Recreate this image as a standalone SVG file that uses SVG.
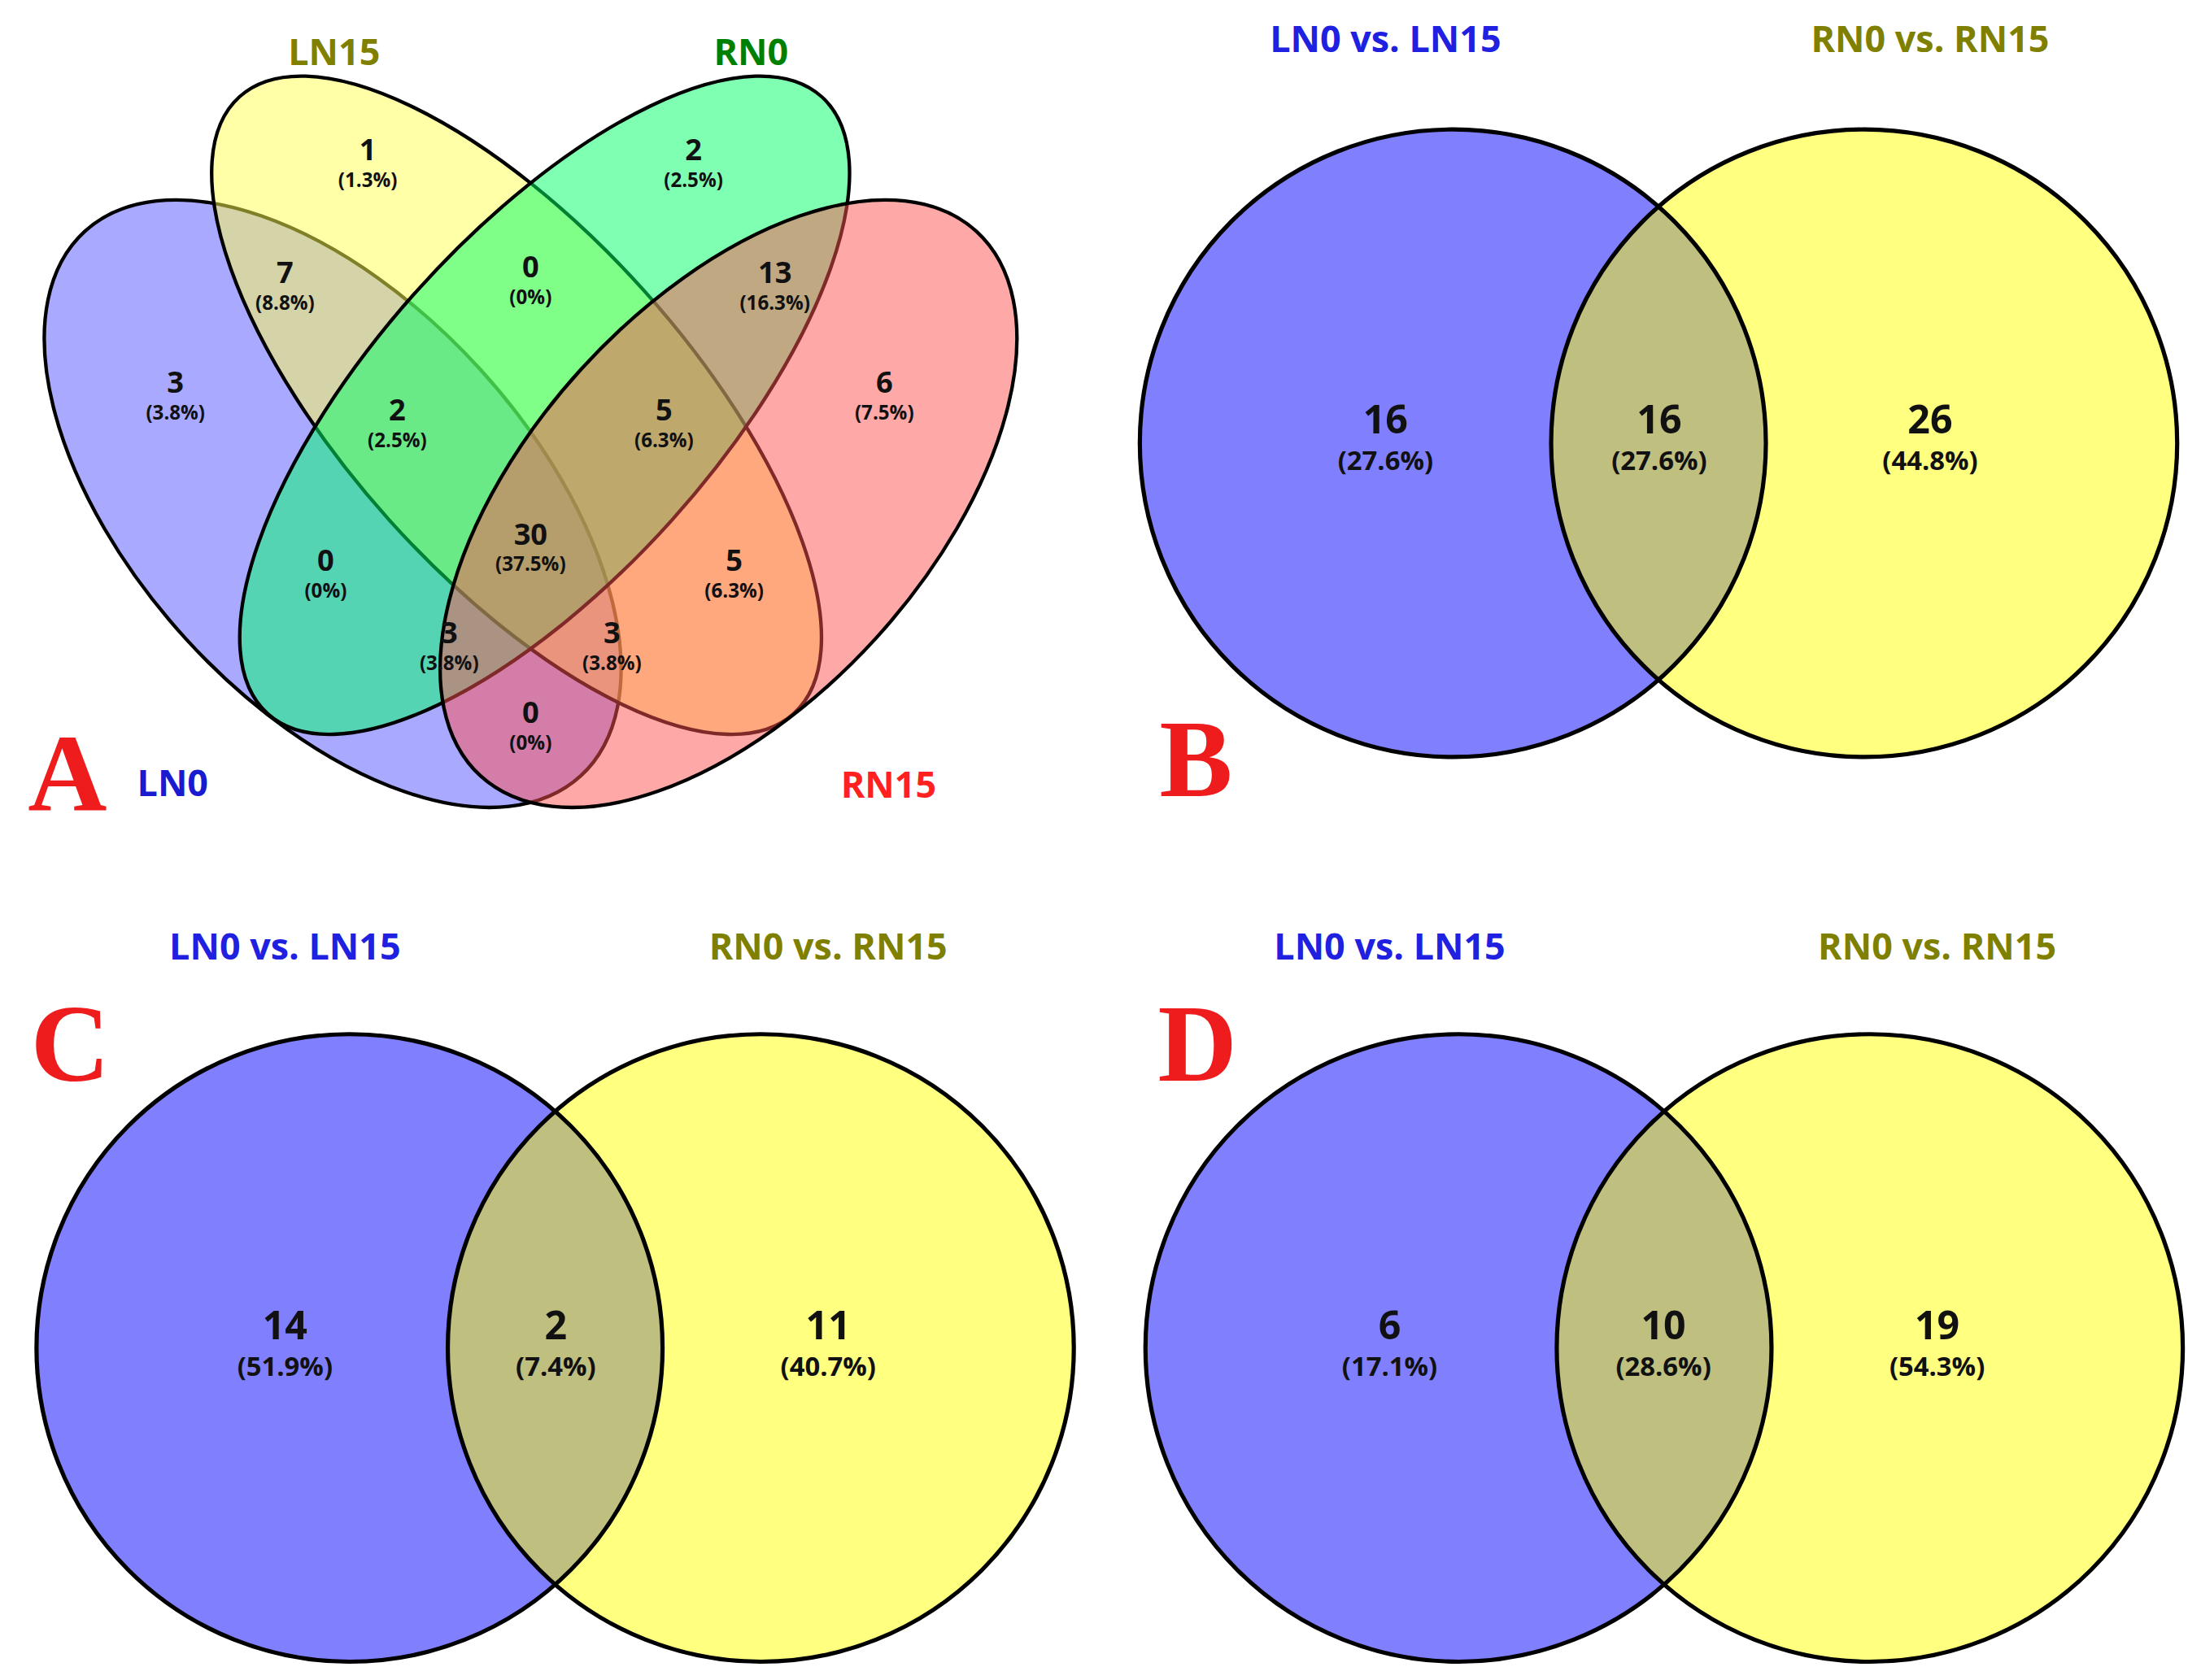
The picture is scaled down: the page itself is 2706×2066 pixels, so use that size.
<svg xmlns="http://www.w3.org/2000/svg" width="2706" height="2066" viewBox="0 0 2706 2066">
<style>
.n{font-family:"Open Sans","Noto Sans",sans-serif;font-weight:bold;fill:#111;text-anchor:middle}
.a1{font-size:21px}.a2{font-size:14px}
.b1{font-size:28px}.b2{font-size:19px}
.t{font-family:"Open Sans","Noto Sans",sans-serif;font-weight:bold;text-anchor:middle;font-size:26px}
.L{font-family:"Liberation Serif",serif;font-weight:bold;fill:#ee1c1c;font-size:78px;text-anchor:middle}
.e{stroke:#000;stroke-width:2.5;fill-opacity:0.5}
.c{stroke:#000;stroke-width:3}
</style>
<defs>
<clipPath id="cpB"><circle cx="1035" cy="315" r="223"/></clipPath>
<clipPath id="cpC"><circle cx="249" cy="958" r="223"/></clipPath>
<clipPath id="cpD"><circle cx="1039" cy="958" r="223"/></clipPath>
</defs>
<rect width="2706" height="2066" fill="#fff"/>
<g transform="scale(1.7258,1.7303)">
<g id="panelA">
<g id="ellipses">
<ellipse class="e" cx="237" cy="358" rx="262" ry="142" fill="#5353ff" transform="rotate(47.6 237 358)"/>
<ellipse class="e" cx="368" cy="288" rx="295" ry="122" fill="#ffff51" transform="rotate(48 368 288)"/>
<ellipse class="e" cx="388" cy="288" rx="295" ry="122" fill="#00ff66" transform="rotate(-48 388 288)"/>
<ellipse class="e" cx="519" cy="358" rx="262" ry="142" fill="#ff5151" transform="rotate(-47.6 519 358)"/>
</g>
<text class="t" x="238" y="46" fill="#808000">LN15</text>
<text class="t" x="535" y="46" fill="#008000">RN0</text>
<text class="t" x="123" y="566" fill="#1a1ad0">LN0</text>
<text class="t" x="633" y="567" fill="#ff2020">RN15</text>
<text class="L" x="48" y="576">A</text>
<g id="labelsA">
<text class="n a1" x="262" y="114">1</text><text class="n a2" x="262" y="133">(1.3%)</text>
<text class="n a1" x="494" y="114">2</text><text class="n a2" x="494" y="133">(2.5%)</text>
<text class="n a1" x="203" y="201">7</text><text class="n a2" x="203" y="220">(8.8%)</text>
<text class="n a1" x="378" y="197">0</text><text class="n a2" x="378" y="216">(0%)</text>
<text class="n a1" x="552" y="201">13</text><text class="n a2" x="552" y="220">(16.3%)</text>
<text class="n a1" x="125" y="279">3</text><text class="n a2" x="125" y="298">(3.8%)</text>
<text class="n a1" x="630" y="279">6</text><text class="n a2" x="630" y="298">(7.5%)</text>
<text class="n a1" x="283" y="299">2</text><text class="n a2" x="283" y="318">(2.5%)</text>
<text class="n a1" x="473" y="299">5</text><text class="n a2" x="473" y="318">(6.3%)</text>
<text class="n a1" x="378" y="387">30</text><text class="n a2" x="378" y="406">(37.5%)</text>
<text class="n a1" x="232" y="406">0</text><text class="n a2" x="232" y="425">(0%)</text>
<text class="n a1" x="523" y="406">5</text><text class="n a2" x="523" y="425">(6.3%)</text>
<text class="n a1" x="320" y="457">3</text><text class="n a2" x="320" y="476">(3.8%)</text>
<text class="n a1" x="436" y="457">3</text><text class="n a2" x="436" y="476">(3.8%)</text>
<text class="n a1" x="378" y="514">0</text><text class="n a2" x="378" y="533">(0%)</text>
</g>
</g>
<g id="panelB">
<circle cx="1035" cy="315" r="223" fill="#8080ff"/>
<circle cx="1328" cy="315" r="223" fill="#ffff80"/>
<circle cx="1328" cy="315" r="223" fill="#bfbf80" clip-path="url(#cpB)"/>
<circle class="c" cx="1035" cy="315" r="223" fill="none"/>
<circle class="c" cx="1328" cy="315" r="223" fill="none"/>
<text class="t" x="987" y="37" fill="#2020e0">LN0 vs. LN15</text>
<text class="t" x="1375" y="37" fill="#808000">RN0 vs. RN15</text>
<text class="L" x="852" y="566">B</text>
<text class="n b1" x="987" y="308">16</text><text class="n b2" x="987" y="334">(27.6%)</text>
<text class="n b1" x="1182" y="308">16</text><text class="n b2" x="1182" y="334">(27.6%)</text>
<text class="n b1" x="1375" y="308">26</text><text class="n b2" x="1375" y="334">(44.8%)</text>
</g>
<g id="panelC">
<circle cx="249" cy="958" r="223" fill="#8080ff"/>
<circle cx="542" cy="958" r="223" fill="#ffff80"/>
<circle cx="542" cy="958" r="223" fill="#bfbf80" clip-path="url(#cpC)"/>
<circle class="c" cx="249" cy="958" r="223" fill="none"/>
<circle class="c" cx="542" cy="958" r="223" fill="none"/>
<text class="t" x="203" y="682" fill="#2020e0">LN0 vs. LN15</text>
<text class="t" x="590" y="682" fill="#808000">RN0 vs. RN15</text>
<text class="L" x="50" y="768">C</text>
<text class="n b1" x="203" y="952">14</text><text class="n b2" x="203" y="978">(51.9%)</text>
<text class="n b1" x="396" y="952">2</text><text class="n b2" x="396" y="978">(7.4%)</text>
<text class="n b1" x="590" y="952">11</text><text class="n b2" x="590" y="978">(40.7%)</text>
</g>
<g id="panelD">
<circle cx="1039" cy="958" r="223" fill="#8080ff"/>
<circle cx="1332" cy="958" r="223" fill="#ffff80"/>
<circle cx="1332" cy="958" r="223" fill="#bfbf80" clip-path="url(#cpD)"/>
<circle class="c" cx="1039" cy="958" r="223" fill="none"/>
<circle class="c" cx="1332" cy="958" r="223" fill="none"/>
<text class="t" x="990" y="682" fill="#2020e0">LN0 vs. LN15</text>
<text class="t" x="1380" y="682" fill="#808000">RN0 vs. RN15</text>
<text class="L" x="853" y="768">D</text>
<text class="n b1" x="990" y="952">6</text><text class="n b2" x="990" y="978">(17.1%)</text>
<text class="n b1" x="1185" y="952">10</text><text class="n b2" x="1185" y="978">(28.6%)</text>
<text class="n b1" x="1380" y="952">19</text><text class="n b2" x="1380" y="978">(54.3%)</text>
</g>
</g>
</svg>
